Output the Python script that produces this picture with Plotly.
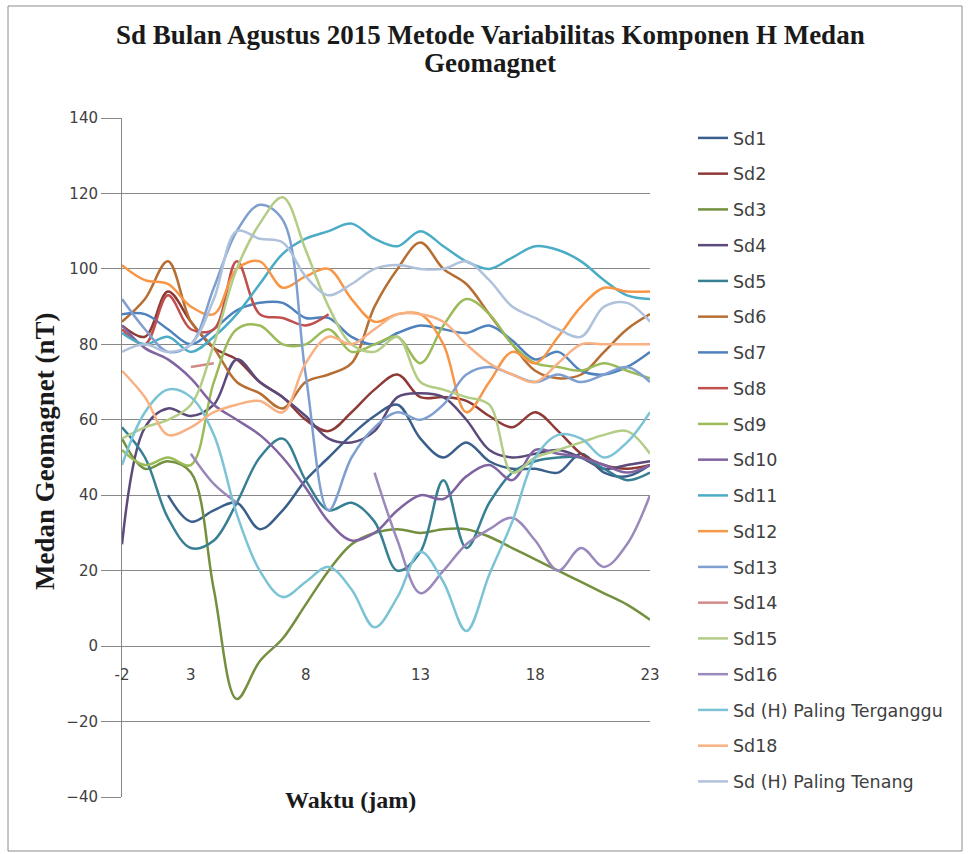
import plotly.graph_objects as go

hours = list(range(24))

names = ["Sd1", "Sd2", "Sd3", "Sd4", "Sd5", "Sd6", "Sd7", "Sd8", "Sd9", "Sd10",
         "Sd11", "Sd12", "Sd13", "Sd14", "Sd15", "Sd16",
         "Sd (H) Paling Terganggu", "Sd18", "Sd (H) Paling Tenang"]

colors = ["#3A5F8B", "#8E3A37", "#73903F", "#5C4A7A", "#377F93", "#B76E33",
          "#4F81BD", "#C0504D", "#9BBB59", "#8064A2", "#4BACC6", "#F79646",
          "#7F9FD0", "#D08B89", "#B3CC86", "#9A89BA", "#7CC3D6", "#F8B183", "#AFC2DB"]

N = None
sd1 = [N, N, 40, 33, 36, 38, 31, 36, 44, 50, 56, 61, 64, 55, 50, 54, 49, 47, 47, 46, 51, 46, 45, 48]
sd2 = [85, 82, 94, 86, 79, 76, 70, 66, 60, 57, 62, 68, 72, 66, 66, 65, 61, 58, 62, 57, 51, 48, 47, 48]
sd3 = [55, 47, 49, 46, 15, -14, -4, 2, 11, 20, 27, 30, 31, 30, 31, 31, 29, 26, 23, 20, 17, 14, 11, 7]
sd4 = [27, 58, 63, 61, 64, 76, 70, 66, 61, 55, 54, 57, 66, 67, 66, 60, 52, 50, 51, 52, 50, 47, 48, 49]
sd5 = [58, 50, 34, 26, 28, 38, 50, 55, 44, 36, 38, 33, 20, 25, 44, 26, 38, 46, 49, 50, 50, 47, 44, 46]
sd6 = [86, 92, 102, 86, 79, 70, 67, 63, 70, 72, 75, 90, 100, 107, 100, 96, 88, 80, 73, 71, 72, 78, 84, 88]
sd7 = [88, 88, 84, 80, 84, 89, 91, 91, 87, 87, 82, 80, 83, 85, 84, 83, 85, 81, 76, 78, 73, 72, 74, 78]
sd8 = [84, 80, 93, 84, 84, 102, 88, 87, 85, 88, N, N, N, N, N, N, N, N, N, N, N, N, N, N]
sd9 = [52, 48, 50, 48, 70, 84, 85, 80, 80, 84, 78, 80, 82, 75, 85, 92, 88, 80, 75, 74, 73, 75, 73, 71]
sd10 = [85, 79, 76, 71, 64, 60, 56, 50, 42, 33, 28, 30, 36, 40, 39, 45, 48, 44, 52, 51, 50, 48, 46, 48]
sd11 = [83, 80, 82, 78, 82, 88, 96, 104, 108, 110, 112, 108, 106, 110, 106, 102, 100, 103, 106, 105, 102, 97, 93, 92]
sd12 = [101, 97, 96, 90, 88, 100, 102, 95, 98, 100, 92, 86, 88, 88, 80, 62, 70, 78, 75, 82, 90, 95, 94, 94]
sd13 = [92, 84, 78, 80, 95, 110, 117, 113, 72, 36, 50, 58, 62, 60, 64, 72, 74, 72, 70, 72, 70, 72, 74, 70]
sd14 = [N, N, N, 74, 75, N, N, N, N, N, N, N, N, N, N, N, N, N, N, N, N, N, N, N]
sd15 = [55, 58, 60, 64, 80, 100, 112, 119, 105, 90, 80, 78, 82, 70, 68, 66, 64, 46, 50, 52, 54, 56, 57, 51]
sd16 = [N, N, N, 51, 43, 38, N, N, N, N, N, 46, 28, 14, 20, 27, 31, 34, 28, 20, 26, 21, 27, 40]
sd17 = [48, 62, 68, 66, 56, 35, 20, 13, 17, 21, 15, 5, 13, 25, 17, 4, 19, 33, 50, 56, 55, 50, 54, 62]
sd18 = [73, 66, 56, 58, 62, 64, 65, 62, 75, 82, 80, 84, 88, 88, 86, 80, 75, 72, 70, 75, 80, 80, 80, 80]
sd19 = [78, 80, 78, 80, 92, 110, 108, 107, 98, 93, 96, 100, 101, 100, 100, 102, 97, 90, 87, 84, 82, 90, 91, 86]

series = [sd1, sd2, sd3, sd4, sd5, sd6, sd7, sd8, sd9, sd10,
          sd11, sd12, sd13, sd14, sd15, sd16, sd17, sd18, sd19]

x_ticks = [0, 3, 8, 13, 18, 23]
x_labels = ["-2", "3", "8", "13", "18", "23"]

GRID = "#878787"
TICK_FONT = dict(family="DejaVu Sans", size=15, color="#404040")
SERIF = "Liberation Serif"
INK = "#1a1a1a"

# plot area in pixels: x 122..650, y 118..797
L, R, T, B = 122, 650, 118, 797
PW, PH = R - L, B - T


def px(x):
    return (x - L) / PW


def py(y):
    return (B - y) / PH


fig = go.Figure()
for name, col, ys in zip(names, colors, series):
    fig.add_trace(go.Scatter(
        x=hours, y=ys, name=name, mode="lines",
        line=dict(color=col, width=2.5, shape="spline", smoothing=1.0),
        connectgaps=False, legendgroup=name,
    ))

fig.update_layout(
    width=968, height=854,
    paper_bgcolor="white", plot_bgcolor="white",
    margin=dict(l=L, r=968 - R, t=T, b=854 - B),
    showlegend=True,
    legend=dict(
        x=px(693), xanchor="left", y=0.997, yanchor="top",
        font=dict(family="DejaVu Sans", size=17.5, color="#404040"),
        tracegroupgap=10, bgcolor="rgba(0,0,0,0)", maxheight=800,
    ),
    xaxis=dict(
        range=[0, 23], tickvals=x_ticks, ticktext=x_labels,
        anchor="free", position=40 / 180,
        showline=True, linecolor=GRID, linewidth=1,
        showgrid=False, zeroline=False,
        ticks="outside", ticklen=15, tickcolor="rgba(0,0,0,0)",
        tickfont=TICK_FONT,
    ),
    yaxis=dict(
        range=[-40, 140], dtick=20,
        showline=True, linecolor=GRID, linewidth=1,
        showgrid=True, gridcolor=GRID, gridwidth=1, zeroline=False,
        ticks="outside", ticklen=20, tickcolor=GRID,
        tickfont=TICK_FONT,
    ),
    annotations=[
        dict(text="<b>Sd Bulan Agustus 2015 Metode Variabilitas Komponen H Medan</b>",
             xref="paper", yref="paper", x=px(490), y=py(35),
             xanchor="center", yanchor="middle", showarrow=False,
             font=dict(family=SERIF, size=27, color=INK)),
        dict(text="<b>Geomagnet</b>",
             xref="paper", yref="paper", x=px(490), y=py(63),
             xanchor="center", yanchor="middle", showarrow=False,
             font=dict(family=SERIF, size=27, color=INK)),
        dict(text="<b>Waktu (jam)</b>", xref="paper", yref="paper",
             x=px(350), y=py(800), xanchor="center", yanchor="middle",
             showarrow=False, font=dict(family=SERIF, size=24, color=INK)),
        dict(text="<b>Medan Geomagnet (nT)</b>", xref="paper", yref="paper",
             x=px(45), y=py(452), xanchor="center", yanchor="middle",
             textangle=-90, showarrow=False,
             font=dict(family=SERIF, size=27, color=INK)),
    ],
    shapes=[dict(type="rect", xref="paper", yref="paper",
                 x0=px(8), x1=px(962), y0=py(851), y1=py(6),
                 line=dict(color="#8c8c8c", width=1))],
)

fig.write_html("out.html", config={"displayModeBar": False},
               post_script="document.body.style.margin='0';")
